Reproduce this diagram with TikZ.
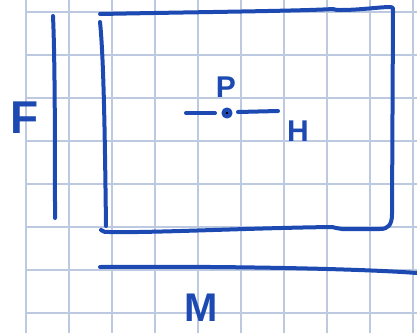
\documentclass[tikz,border=0pt]{standalone}
\usepackage{fontspec}
\setmainfont{Liberation Sans}
\definecolor{pen}{RGB}{28,74,178}
\definecolor{gridc}{RGB}{188,201,224}
\tikzset{
  pen/.style={draw=pen, line width=4pt, line cap=round, line join=round},
  gridline/.style={draw=gridc, line width=1.4pt},
  letter/.style={text=pen, inner sep=0pt, anchor=center}
}
\begin{document}
\begin{tikzpicture}[x=1pt, y=-1pt]
  % page frame
  \fill[white] (0,0) rectangle (417,333);
  \useasboundingbox (0,0) rectangle (417,333);

  % squared paper
  \foreach \k in {0,...,9} {
    \draw[gridline] (26+43*\k,0) -- (26+43*\k,333);
  }
  \foreach \k in {0,...,7} {
    \draw[gridline] (26,12+43*\k) -- (417,12+43*\k);
  }

  % vertical extent bar beside the box
  \draw[pen] (53,16) .. controls (55,60) and (55,150) .. (55,218);

  % the box: left side
  \draw[pen] (100,22) .. controls (104,60) and (105,150) .. (106,226);
  % the box: top, right side and bottom in one stroke
  \draw[pen] (100,14) .. controls (200,12) and (300,11) .. (333,9)
    .. controls (336,10) .. (341,10)
    .. controls (360,10) and (380,7) .. (390,7)
    .. controls (393,7) .. (393,12)
    -- (392,214)
    .. controls (392,225) and (388,229) .. (380,229)
    -- (342,229) .. controls (336,228) .. (332,227)
    .. controls (250,228) and (150,233) .. (110,232)
    .. controls (104,232) .. (101,230);

  % horizontal extent bar below the box
  \draw[pen] (100,267) .. controls (200,266) and (350,268) .. (417,273);

  % the point with its horizontal strokes
  \draw[pen] (186,113) -- (215,113);
  \draw[pen] (238,112) -- (278,111);
  \fill[pen] (227,113) circle (3.5);

  % labels
  \node[letter, font=\fontsize{30}{30}\selectfont\bfseries] (p) at (226,87) {P};
  \node[letter, font=\fontsize{30}{30}\selectfont\bfseries] (h) at (298,131) {H};
  \node[letter, font=\fontsize{46}{46}\selectfont\bfseries] (f) at (25,118) {F};
  \node[letter, font=\fontsize{40}{40}\selectfont\bfseries] (m) at (201,308) {M};
\end{tikzpicture}
\end{document}
